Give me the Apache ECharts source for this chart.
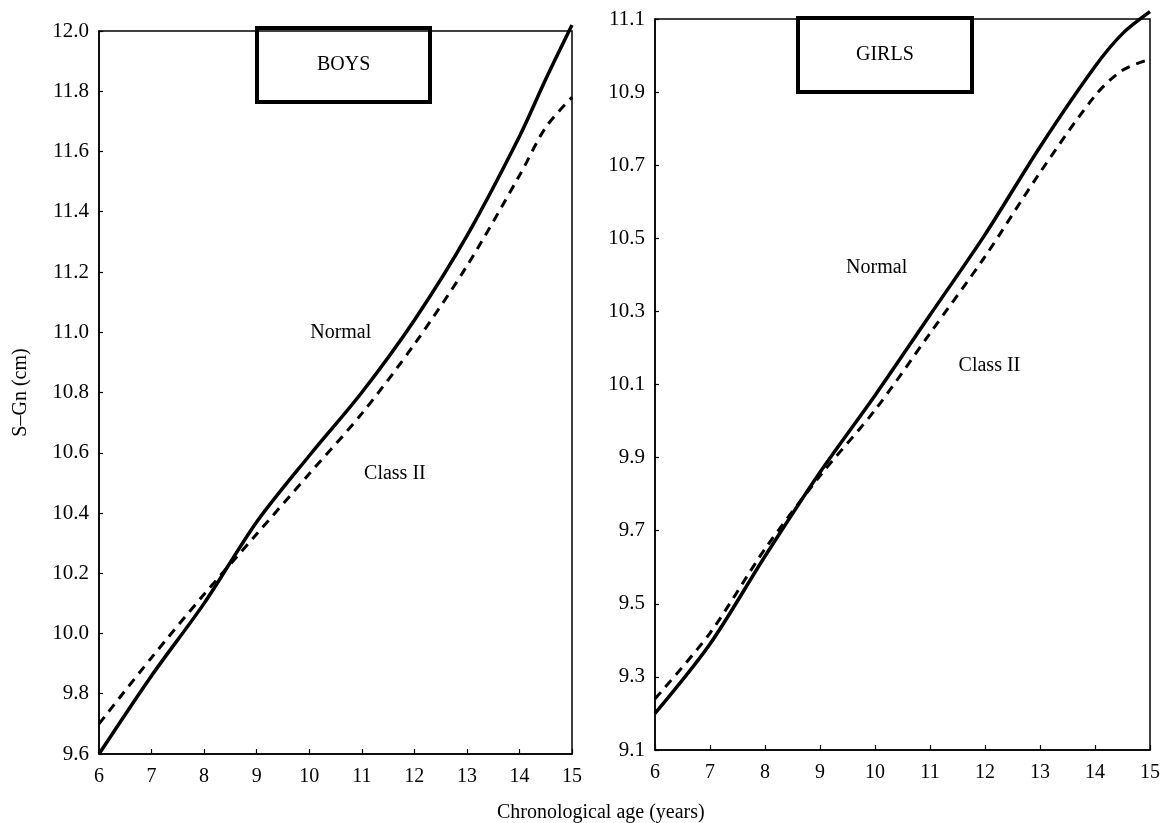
<!DOCTYPE html>
<html><head><meta charset="utf-8">
<script src="https://cdn.jsdelivr.net/npm/echarts@6/dist/echarts.min.js"></script>
<style>html,body{margin:0;background:#fff}#c{width:1166px;height:823px}</style>
</head><body><div id="c"></div>
<script>
// ---- data ----
const ages = [6, 7, 8, 9, 10, 11, 12, 13, 14, 14.5, 15];
const boysNormal   = [9.60, 9.86, 10.10, 10.37, 10.59, 10.80, 11.04, 11.32, 11.65, 11.84, 12.02];
const boysClassII  = [9.70, 9.92, 10.13, 10.33, 10.53, 10.73, 10.96, 11.22, 11.52, 11.68, 11.78];
const girlsNormal  = [9.20, 9.39, 9.63, 9.86, 10.07, 10.29, 10.51, 10.75, 10.97, 11.06, 11.12];
const girlsClassII = [9.24, 9.42, 9.65, 9.85, 10.03, 10.24, 10.45, 10.68, 10.89, 10.96, 10.99];
const boysYRange  = [9.6, 12.0];
const girlsYRange = [9.1, 11.1];
const ageRange = [6, 15];
const boysLabelText  = ['Normal', 'Class II'];
const boysLabelAge   = [10.6, 11.63];
const boysLabelValue = [11.0, 10.53];
const girlsLabelText  = ['Normal', 'Class II'];
const girlsLabelAge   = [10.03, 12.08];
const girlsLabelValue = [10.42, 10.15];
const panelTitles = ['BOYS', 'GIRLS'];
const xAxisTitle = 'Chronological age (years)';
const yAxisTitle = 'S\u2013Gn (cm)';

// ---- chart ----
const FONT = 'Liberation Serif';
const pairs = (xs, ys) => xs.map((x, i) => [x, ys[i]]);
const labelPts = (t, a, v) => t.map((s, i) => [a[i], v[i], s]);

function xAx(gi) {
  return {
    type: 'value', gridIndex: gi, min: ageRange[0], max: ageRange[1], interval: 1,
    axisLine: { show: true, lineStyle: { color: '#000', width: 1.5 } },
    axisTick: { show: true, inside: true, length: 5, lineStyle: { color: '#000', width: 1.2 } },
    axisLabel: { color: '#000', fontFamily: FONT, fontSize: 20, margin: 13 },
    splitLine: { show: false }
  };
}
function yAx(gi, range, name) {
  return {
    type: 'value', gridIndex: gi, min: range[0], max: range[1], interval: 0.2,
    name: name || '', nameLocation: 'middle', nameGap: 68, nameRotate: 90,
    nameTextStyle: { color: '#000', fontFamily: FONT, fontSize: 20 },
    axisLine: { show: true, lineStyle: { color: '#000', width: 1.5 } },
    axisTick: { show: true, inside: true, length: 4, lineStyle: { color: '#000', width: 1.2 } },
    axisLabel: { color: '#000', fontFamily: FONT, fontSize: 21, margin: 10,
      formatter: v => v.toFixed(1) },
    splitLine: { show: false }
  };
}
function lineS(gi, data, dashed) {
  return {
    type: 'line', xAxisIndex: gi, yAxisIndex: gi, data: data, smooth: 0.3,
    showSymbol: false, symbol: 'none', clip: false, silent: true,
    lineStyle: { color: '#000', width: dashed ? 3 : 3.5, type: dashed ? [9, 7] : 'solid' }
  };
}
function labelS(gi, data) {
  return {
    type: 'scatter', xAxisIndex: gi, yAxisIndex: gi, data: data, symbolSize: 0, silent: true,
    itemStyle: { color: '#000', opacity: 1 },
    label: { show: true, position: 'inside', formatter: p => p.value[2], opacity: 1,
      color: '#000', textBorderWidth: 0, fontFamily: FONT, fontSize: 20 }
  };
}
function boxTitle(text, left, top, padH) {
  return {
    text: text, left: left, top: top, borderColor: '#000', borderWidth: 4,
    padding: [27, padH],
    textStyle: { color: '#000', fontFamily: FONT, fontSize: 20, fontWeight: 'normal' }
  };
}

const chart = echarts.init(document.getElementById('c'), null, { renderer: 'canvas' });
chart.setOption({
  backgroundColor: '#fff',
  animation: false,
  title: [
    boxTitle(panelTitles[0], 257, 28, 60),
    boxTitle(panelTitles[1], 798, 18, 58),
    { text: xAxisTitle, left: 497, top: 803, padding: 0,
      textStyle: { color: '#000', fontFamily: FONT, fontSize: 20, fontWeight: 'normal' } }
  ],
  grid: [
    { left: 99, top: 31, width: 473, height: 723, show: true, borderColor: '#000', borderWidth: 1.5 },
    { left: 655, top: 19, width: 495, height: 731, show: true, borderColor: '#000', borderWidth: 1.5 }
  ],
  xAxis: [xAx(0), xAx(1)],
  yAxis: [yAx(0, boysYRange, yAxisTitle), yAx(1, girlsYRange)],
  series: [
    lineS(0, pairs(ages, boysNormal), false),
    lineS(0, pairs(ages, boysClassII), true),
    lineS(1, pairs(ages, girlsNormal), false),
    lineS(1, pairs(ages, girlsClassII), true),
    labelS(0, labelPts(boysLabelText, boysLabelAge, boysLabelValue)),
    labelS(1, labelPts(girlsLabelText, girlsLabelAge, girlsLabelValue))
  ]
});
</script>
</body></html>
